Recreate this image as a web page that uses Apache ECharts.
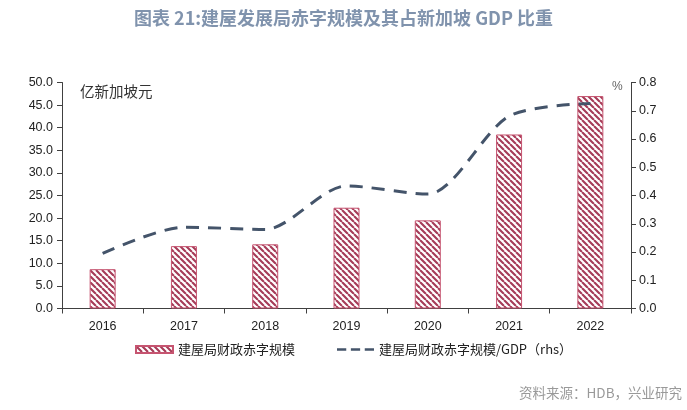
<!DOCTYPE html>
<html><head><meta charset="utf-8">
<script src="https://cdn.jsdelivr.net/npm/echarts@6/dist/echarts.min.js"></script>
<style>html,body{margin:0;padding:0;background:#fff}#c{width:687px;height:410px}</style>
</head><body><div id="c"></div>
<script>
const categories = ['2016','2017','2018','2019','2020','2021','2022'];
const deficitValues = [8.7, 13.8, 14.2, 22.3, 19.5, 38.5, 47.0];
const deficitGdpRatio = [0.195, 0.288, 0.280, 0.434, 0.405, 0.681, 0.726];
const leftTicks = {min: 0, max: 50, interval: 5};
const rightTicks = {min: 0, max: 0.8, interval: 0.1};
const barName = '建屋局财政赤字规模';
const lineName = '建屋局财政赤字规模/GDP（rhs）';

function makePattern() {
  const s = 6;
  const cv = document.createElement('canvas');
  cv.width = s; cv.height = s;
  const ctx = cv.getContext('2d');
  ctx.fillStyle = '#ffffff';
  ctx.fillRect(0, 0, s, s);
  ctx.strokeStyle = '#A63C58';
  ctx.lineWidth = 2.1;
  ctx.beginPath();
  for (let k = -1; k <= 1; k++) {
    ctx.moveTo(k * s, 0);
    ctx.lineTo(k * s + s, s);
  }
  ctx.stroke();
  return cv;
}
const pattern = {image: makePattern(), repeat: 'repeat'};

const chart = echarts.init(document.getElementById('c'), null, {renderer: 'canvas'});
const labelFont = {color: '#222', fontSize: 12.5, fontFamily: 'Liberation Sans, DejaVu Sans, sans-serif'};
chart.setOption({
  animation: false,
  title: {
    text: '图表 21:建屋发展局赤字规模及其占新加坡 GDP 比重',
    left: 'center', top: 4,
    textStyle: {color: '#8093AD', fontSize: 18, fontWeight: 'bold', fontFamily: 'Noto Sans CJK SC'}
  },
  graphic: [
    {type: 'text', left: 80, top: 84, style: {text: '亿新加坡元', fill: '#333', font: '14.5px "Noto Sans CJK SC"'}},
    {type: 'text', left: 612, top: 81, style: {text: '%', fill: '#666', font: '12px "Liberation Sans"'}},
    {type: 'text', right: 5, top: 386, style: {text: '资料来源：HDB，兴业研究', fill: '#999', font: '13.5px "Noto Sans CJK SC"'}}
  ],
  legend: {
    bottom: 49, left: 130,
    itemGap: 42,
    itemWidth: 37, itemHeight: 7,
    textStyle: {color: '#222', fontSize: 13, fontFamily: 'Noto Sans CJK SC'},
    data: [
      {name: barName, icon: 'rect'},
      {name: lineName, icon: 'path://M0,0 L4,0 L4,1 L0,1 Z M6,0 L10,0 L10,1 L6,1 Z M12,0 L16,0 L16,1 L12,1 Z', itemStyle: {color: '#44546A'}}
    ]
  },
  grid: {left: 62, right: 56, top: 82.5, bottom: 101.5},
  xAxis: {
    type: 'category', data: categories,
    axisLine: {lineStyle: {color: '#404040', width: 1}},
    axisTick: {show: true, inside: false, length: 5, alignWithLabel: false, lineStyle: {color: '#404040'}},
    axisLabel: Object.assign({margin: 12}, labelFont)
  },
  yAxis: [
    {
      type: 'value', min: leftTicks.min, max: leftTicks.max, interval: leftTicks.interval,
      axisLine: {show: true, lineStyle: {color: '#404040'}},
      axisTick: {show: true, length: 5, lineStyle: {color: '#404040'}},
      splitLine: {show: false},
      axisLabel: Object.assign({formatter: v => v.toFixed(1), margin: 9}, labelFont)
    },
    {
      type: 'value', min: rightTicks.min, max: rightTicks.max, interval: rightTicks.interval,
      position: 'right',
      axisLine: {show: true, lineStyle: {color: '#404040'}},
      axisTick: {show: true, length: 5, lineStyle: {color: '#404040'}},
      splitLine: {show: false},
      axisLabel: Object.assign({formatter: v => v.toFixed(1), margin: 8}, labelFont)
    }
  ],
  series: [
    {
      name: barName, type: 'bar', data: deficitValues, barWidth: 26, yAxisIndex: 0,
      itemStyle: {color: pattern, borderColor: '#C65470', borderWidth: 1}
    },
    {
      name: lineName, type: 'line', data: deficitGdpRatio, yAxisIndex: 1,
      smooth: 0.28, symbol: 'none',
      lineStyle: {color: '#44546A', width: 3, type: [13, 9]},
      itemStyle: {color: '#44546A'}
    }
  ]
});
</script></body></html>
